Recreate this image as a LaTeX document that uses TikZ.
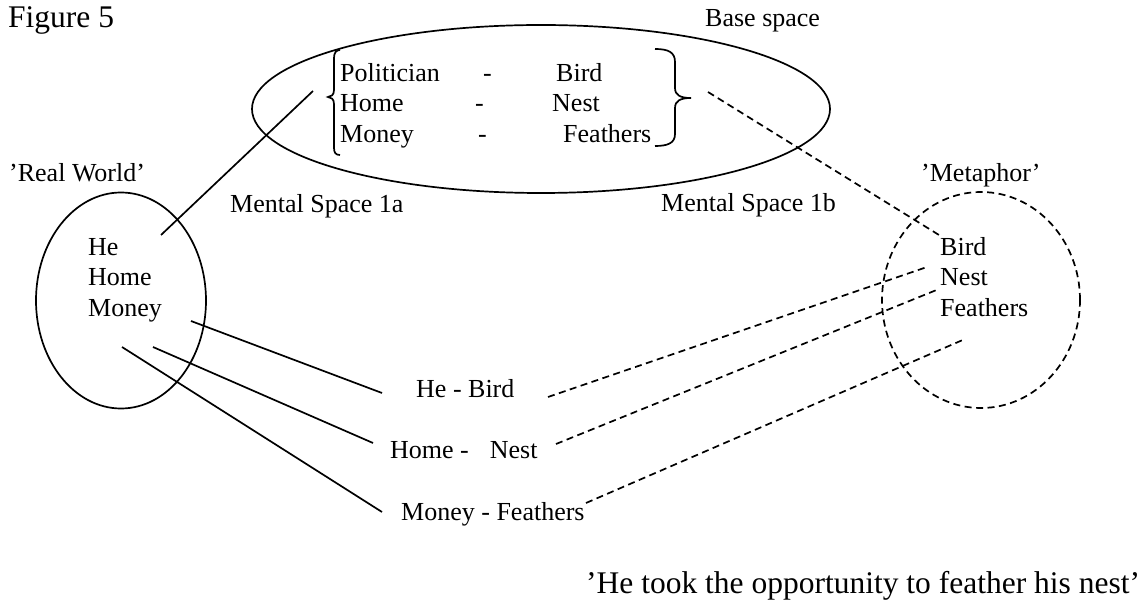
\documentclass[tikz,border=0pt]{standalone}
\usepackage{fontspec}
\setmainfont{Liberation Serif}
\usetikzlibrary{shapes.geometric}
\begin{document}
\begin{tikzpicture}[x=1pt,y=-1pt,
  lbl/.style={inner sep=0pt, anchor=base west, font=\fontsize{26}{30}\selectfont},
  biglbl/.style={lbl, font=\fontsize{31.5}{36}\selectfont},
  mspace/.style={draw, ellipse, inner sep=0pt, line width=1.7pt},
  link/.style={line width=1.7pt},
  dlink/.style={line width=1.7pt, dash pattern=on 7pt off 4.5pt},
]
\useasboundingbox[fill=white] (0,0) rectangle (1148,601);

% mental spaces
\node[mspace, minimum width=578pt, minimum height=168pt] (base) at (541,109) {};
\node[mspace, minimum width=170pt, minimum height=216pt] (real) at (121,300.5) {};
\node[mspace, dlink, minimum width=198pt, minimum height=216pt] (meta) at (981,300) {};

% titles and labels
\node[biglbl] (fig) at (8,28) {Figure 5};
\node[lbl] (basettl) at (705,27) {Base space};
\node[lbl] (realttl) at (9,182) {’Real World’};
\node[lbl] (metattl) at (921,182) {’Metaphor’};
\node[lbl] (ms1a) at (230,213) {Mental Space 1a};
\node[lbl] (ms1b) at (661,212) {Mental Space 1b};

% base space mappings
\node[lbl] (bp1) at (340,82) {Politician};
\node[lbl] (bd1) at (483,82) {-};
\node[lbl] (bb1) at (556,82) {Bird};
\node[lbl] (bp2) at (340,112) {Home};
\node[lbl] (bd2) at (475,112) {-};
\node[lbl] (bb2) at (552,112) {Nest};
\node[lbl] (bp3) at (340,143) {Money};
\node[lbl] (bd3) at (478,143) {-};
\node[lbl] (bb3) at (563,143) {Feathers};

% braces around the mappings
\draw[link] (340,50) .. controls (336,50) and (334,53) .. (334,58) -- (334,90)
  .. controls (334,95) and (331,97) .. (328,97)
  .. controls (331,97) and (334,99) .. (334,104) -- (334,148)
  .. controls (334,153) and (336,155) .. (340,155);
\draw[link] (655,49) .. controls (668,49) and (675,52) .. (675,62) -- (675,88)
  .. controls (675,95) and (680,98) .. (691,98)
  .. controls (680,98) and (675,101) .. (675,108) -- (675,134)
  .. controls (675,143) and (668,146) .. (655,146);

% real world contents
\node[lbl] (rhe) at (88,256) {He};
\node[lbl] (rhome) at (88,286) {Home};
\node[lbl] (rmoney) at (88,317) {Money};

% metaphor contents
\node[lbl] (mbird) at (940,256) {Bird};
\node[lbl] (mnest) at (940,286) {Nest};
\node[lbl] (mfeath) at (940,317) {Feathers};

% blended pairs
\node[lbl] (p1) at (416,397) {He - Bird};
\node[lbl] (p2) at (390,458) {Home -\hspace{21pt}Nest};
\node[lbl] (p3) at (401,520) {Money - Feathers};

\node[biglbl] (quote) at (586,593) {’He took the opportunity to feather his nest’};

% connector end points
\coordinate (heA) at (161,235);
\coordinate (baseL) at (313,91);
\coordinate (baseR) at (708,92);
\coordinate (metB) at (939,235);
\coordinate (r1) at (191,321);
\coordinate (r2) at (153,347);
\coordinate (r3) at (122,347);
\coordinate (p1L) at (382,393);
\coordinate (p2L) at (373,443);
\coordinate (p3L) at (382,512);
\coordinate (p1R) at (548,397);
\coordinate (p2R) at (556,444);
\coordinate (p3R) at (586,503);
\coordinate (m1) at (927,267);
\coordinate (m2) at (939,289);
\coordinate (m3) at (965,339);

% connectors
\draw[link] (heA) -- (baseL);
\draw[dlink] (baseR) -- (metB);
\draw[link] (r1) -- (p1L);
\draw[link] (r2) -- (p2L);
\draw[link] (r3) -- (p3L);
\draw[dlink] (p1R) -- (m1);
\draw[dlink] (p2R) -- (m2);
\draw[dlink] (p3R) -- (m3);
\end{tikzpicture}
\end{document}
